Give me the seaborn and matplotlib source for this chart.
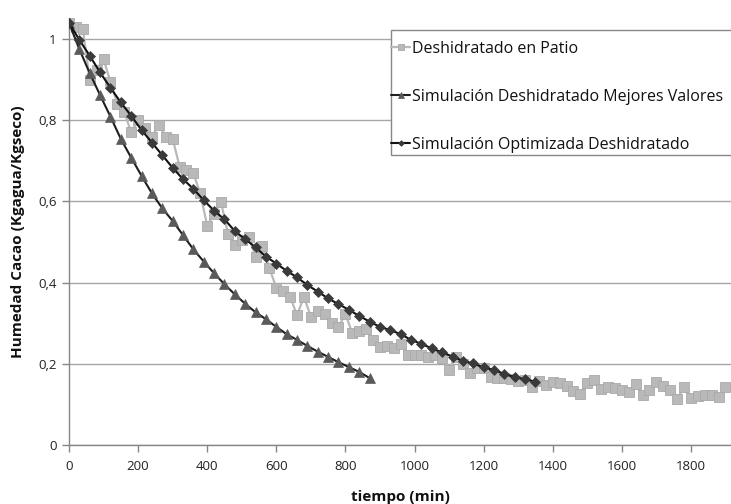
import numpy as np
import pandas as pd
import matplotlib
matplotlib.use("Agg")
import matplotlib.pyplot as plt
import seaborn as sns
from matplotlib.ticker import FuncFormatter
from matplotlib.patches import Rectangle

# ---- data ----
patio_t = list(range(0, 1901, 20))
patio_y = [1.04, 1.03, 1.025, 0.90, 0.925, 0.95, 0.895, 0.84, 0.82, 0.77,
           0.80, 0.78, 0.76, 0.788, 0.76, 0.755, 0.686, 0.677, 0.669, 0.62,
           0.54, 0.57, 0.598, 0.521, 0.493, 0.505, 0.512, 0.464, 0.49, 0.435,
           0.388, 0.379, 0.365, 0.32, 0.365, 0.316, 0.331, 0.323, 0.30, 0.291,
           0.323, 0.275, 0.282, 0.287, 0.259, 0.242, 0.245, 0.238, 0.25, 0.222,
           0.221, 0.222, 0.218, 0.222, 0.215, 0.186, 0.216, 0.20, 0.178, 0.19,
           0.19, 0.168, 0.166, 0.164, 0.162, 0.158, 0.16, 0.144, 0.157, 0.148,
           0.155, 0.152, 0.145, 0.134, 0.126, 0.152, 0.160, 0.138, 0.142, 0.140,
           0.136, 0.131, 0.150, 0.123, 0.136, 0.156, 0.145, 0.136, 0.114, 0.142,
           0.115, 0.121, 0.124, 0.124, 0.119, 0.142]

mejores_t = list(range(0, 871, 30))
mejores_y = [1.04, 0.975, 0.916, 0.862, 0.809, 0.754, 0.708, 0.663, 0.620, 0.583,
             0.552, 0.517, 0.482, 0.452, 0.423, 0.396, 0.371, 0.348, 0.327, 0.310,
             0.291, 0.273, 0.259, 0.244, 0.230, 0.217, 0.204, 0.192, 0.180, 0.165]

optim_t = list(range(0, 1351, 30))
optim_y = [1.04, 0.998, 0.959, 0.918, 0.880, 0.844, 0.811, 0.776, 0.745, 0.714,
           0.683, 0.655, 0.631, 0.603, 0.577, 0.556, 0.527, 0.507, 0.487, 0.464,
           0.447, 0.429, 0.413, 0.394, 0.378, 0.361, 0.347, 0.333, 0.318, 0.304,
           0.291, 0.283, 0.273, 0.259, 0.249, 0.238, 0.228, 0.218, 0.207, 0.201,
           0.191, 0.185, 0.175, 0.167, 0.162, 0.156]

labels = ["Deshidratado en Patio",
          "Simulación Deshidratado Mejores Valores",
          "Simulación Optimizada Deshidratado"]

x_ticks = list(range(0, 1801, 200))
y_ticks = [0, 0.2, 0.4, 0.6, 0.8, 1.0]

# ---- style ----
sns.set_theme(style="white")
plt.rcParams["font.family"] = ["Open Sans", "DejaVu Sans"]

fig = plt.figure(figsize=(7.31, 5.04), dpi=100)
ax = fig.add_axes([69/731, 1-445/504, 1-69/731, (445-18)/504])

ax.set_xlim(0, 1916)
ax.set_ylim(0, 1.052)
ax.set_yticks(y_ticks)
ax.set_xticks(x_ticks)
ax.yaxis.grid(True, color="#a6a6a6", linewidth=1.0)
ax.set_axisbelow(True)

sns.lineplot(x=patio_t, y=patio_y, ax=ax, color="#b9b9b9", linewidth=1.6,
             marker="s", markersize=6.5, markerfacecolor="#b9b9b9",
             markeredgecolor="#a9a9a9", markeredgewidth=0.6,
             label=labels[0], zorder=2)
sns.lineplot(x=mejores_t, y=mejores_y, ax=ax, color="#1e1e1e", linewidth=1.5,
             marker="^", markersize=6.5, markerfacecolor="#5a5a5a",
             markeredgecolor="#5a5a5a", markeredgewidth=0.5,
             label=labels[1], zorder=3)
sns.lineplot(x=optim_t, y=optim_y, ax=ax, color="#111111", linewidth=1.5,
             marker="D", markersize=4.8, markerfacecolor="#3a3a3a",
             markeredgecolor="#3a3a3a", markeredgewidth=0.5,
             label=labels[2], zorder=4)

fmt = lambda v, p: ("%g" % v).replace(".", ",")
ax.yaxis.set_major_formatter(FuncFormatter(fmt))
ax.tick_params(axis="both", which="major", direction="out", length=5,
               width=1, color="#868686", labelsize=9.5, labelcolor="#222222",
               left=True, bottom=True, pad=4)
ax.tick_params(axis="x", pad=6)

for s in ["top", "right"]:
    ax.spines[s].set_visible(False)
for s in ["left", "bottom"]:
    ax.spines[s].set_color("#868686")
    ax.spines[s].set_linewidth(1.0)

ax.set_xlabel("tiempo (min)", fontsize=11, fontweight="bold", color="#111111",
              labelpad=12)
ax.set_ylabel("Humedad Cacao (Kgagua/Kgseco)", fontsize=11, fontweight="bold",
              color="#111111", labelpad=9)

frame = Rectangle((391/731, 1-155/504), 360/731, 125/504,
                  transform=fig.transFigure, fill=True, facecolor="white",
                  edgecolor="#888888", linewidth=1.0, zorder=5, clip_on=False)
ax.add_patch(frame)

leg = ax.legend(loc="upper left", bbox_to_anchor=(391/731, 1-41/504),
                bbox_transform=fig.transFigure, borderaxespad=0,
                fontsize=11.5, frameon=False,
                handlelength=1.2, handletextpad=0.12, labelspacing=2.0,
                borderpad=0.0, markerscale=0.6)
leg.set_zorder(6)
for t in leg.get_texts():
    t.set_color("#111111")

fig.savefig("out.png", dpi=100)
